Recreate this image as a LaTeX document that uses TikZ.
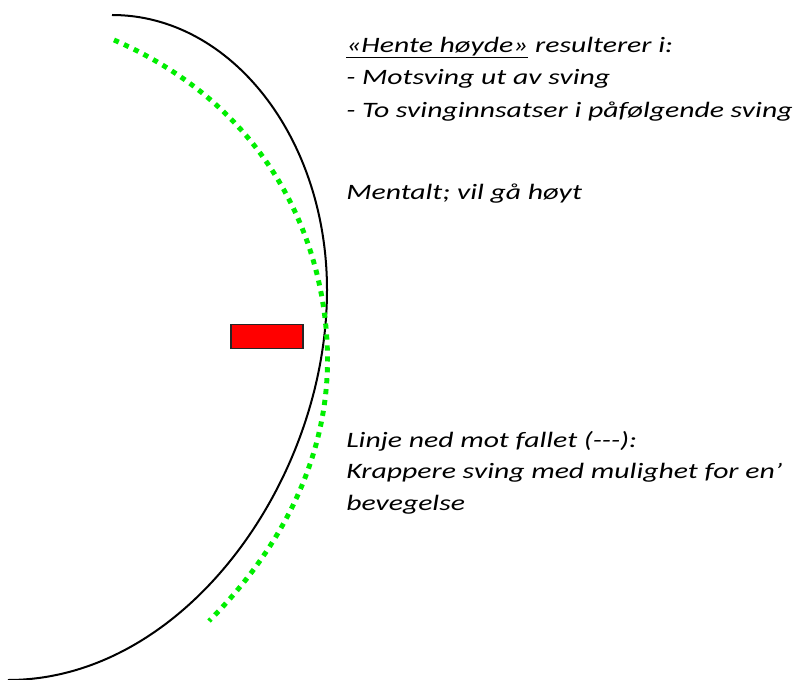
\documentclass[tikz,border=0pt]{standalone}
\usepackage{fontspec}
\setmainfont{Carlito}[FakeStretch=1.35]
\definecolor{dotgreen}{RGB}{0,238,0}
\definecolor{boxred}{RGB}{255,0,0}
\newcommand{\myul}[1]{\setbox0\hbox{#1}\rlap{\rule[-3.8pt]{\wd0}{1.1pt}}\box0\relax}
\begin{document}
\begin{tikzpicture}[x=0.75pt,y=-0.75pt,
  txt/.style={anchor=base west,inner sep=0pt,font=\fontsize{16.5pt}{20pt}\selectfont\itshape},
  trackline/.style={line width=1.5pt,black},
  greenline/.style={dotgreen,line width=3.7pt,dash pattern=on 3.9pt off 4.3pt},
  marker/.style={draw=black!85,line width=0.9pt,fill=boxred,minimum width=72*0.75pt,minimum height=24*0.75pt,inner sep=0pt}]
\useasboundingbox (0,0) rectangle (805,680);
\coordinate (bt) at (112,15);
\coordinate (bm) at (327,290);
\coordinate (bb) at (8,680);
\coordinate (gt) at (114,40);
\coordinate (gm) at (327.5,360);
\coordinate (gb) at (209,621);
\draw[trackline] (bt) .. controls (231,15) and (327,138) .. (bm)
  .. controls (327,480) and (185,680) .. (bb);
\draw[greenline] (gt) .. controls (275,110) and (327.5,250) .. (gm)
  .. controls (327.5,460) and (280,550) .. (gb);
\node[marker] (box) at (267,336.5) {};
\node[txt] (l1) at (346,53) {\myul{«Hente høyde»} resulterer i:};
\node[txt] (l2) at (346,85) {- Motsving ut av sving};
\node[txt] (l3) at (346,117.5) {- To svinginnsatser i påfølgende sving};
\node[txt] (l4) at (346,200) {Mentalt; vil gå høyt};
\node[txt] (l5) at (346,447) {Linje ned mot fallet (-{}-{}-):};
\node[txt] (l6) at (346,478.5) {Krappere sving med mulighet for en’};
\node[txt] (l7) at (346,510) {bevegelse};
\end{tikzpicture}
\end{document}
